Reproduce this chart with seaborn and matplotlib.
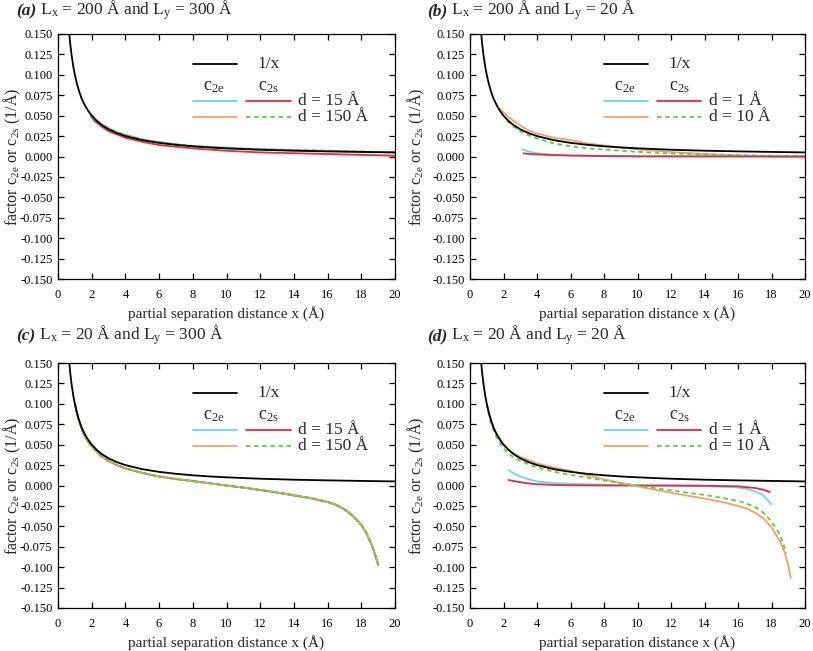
import matplotlib
matplotlib.use('Agg')
import matplotlib.pyplot as plt
import seaborn as sns
import numpy as np
from matplotlib.ticker import FormatStrFormatter, MultipleLocator

# ---- data ----
# 1/x reference curve (same in all panels)
x_inv = [0.67, 0.72, 0.8, 0.9, 1.0, 1.1, 1.25, 1.4, 1.6, 1.8, 2.0, 2.3, 2.6, 3.0, 3.5,
         4.0, 5.0, 6.0, 7.0, 8.0, 9.0, 10.0, 12.0, 14.0, 16.0, 18.0, 20.0]
y_inv = [0.150, 0.139, 0.125, 0.111, 0.100, 0.091, 0.080, 0.071, 0.0625, 0.0556, 0.050,
         0.0435, 0.0385, 0.0333, 0.0286, 0.025, 0.020, 0.0167, 0.0143, 0.0125, 0.0111,
         0.010, 0.0083, 0.0071, 0.0063, 0.0056, 0.005]

# (a) Lx = 200, Ly = 300
a_x = [1.95, 2.2, 2.5, 3, 3.5, 4, 5, 6, 7, 8, 10, 12, 14, 16, 18, 20]
a_c2e_d15 = [0.051, 0.046, 0.041, 0.035, 0.030, 0.027, 0.021, 0.018, 0.015, 0.013, 0.011,
             0.009, 0.008, 0.007, 0.006, 0.005]
a_c2s_d15 = [0.049, 0.043, 0.038, 0.031, 0.027, 0.023, 0.018, 0.014, 0.012, 0.010, 0.007,
             0.005, 0.004, 0.003, 0.002, 0.001]
a_c2e_d150 = [0.050, 0.045, 0.040, 0.034, 0.029, 0.026, 0.020, 0.017, 0.014, 0.012, 0.010,
              0.0085, 0.0075, 0.0065, 0.0058, 0.005]
a_c2s_d150 = [0.050, 0.045, 0.040, 0.034, 0.030, 0.026, 0.021, 0.017, 0.015, 0.013, 0.010,
              0.009, 0.008, 0.007, 0.006, 0.005]

# (b) Lx = 200, Ly = 20
b_x_c2e_d1 = [3.1, 3.5, 4, 5, 6, 8, 10, 14, 20]
b_c2e_d1 = [0.0086, 0.006, 0.004, 0.002, 0.0012, 0.0005, 0.0002, 0.0001, 0.0]
b_x_c2s_d1 = [3.2, 3.5, 4, 5, 6, 8, 10, 14, 20]
b_c2s_d1 = [0.0038, 0.0032, 0.0025, 0.0017, 0.0012, 0.0005, 0.0002, 0.0001, 0.0]
b_x_c2e_d10 = [1.8, 2, 2.5, 3, 3.5, 4, 5, 6, 7, 8, 9, 10, 12, 14, 16, 18, 20]
b_c2e_d10 = [0.058, 0.054, 0.045, 0.038, 0.032, 0.028, 0.023, 0.020, 0.016, 0.0135, 0.011,
             0.0087, 0.0055, 0.003, 0.0015, 0.0, -0.001]
b_x_c2s_d10 = [2.2, 2.5, 3, 3.5, 4, 5, 6, 7, 8, 10, 12, 14, 16, 18, 20]
b_c2s_d10 = [0.044, 0.038, 0.031, 0.026, 0.022, 0.016, 0.0125, 0.010, 0.0085, 0.0057,
             0.0038, 0.0025, 0.0016, 0.001, 0.0005]

# (c) Lx = 20, Ly = 300
c_x = [1.0, 1.2, 1.5, 1.8, 2.0, 2.5, 3, 3.5, 4, 5, 6, 7, 8, 9, 10, 11, 12, 13, 14, 15,
       16, 16.5, 17, 17.5, 18, 18.3, 18.6, 18.8, 19.0]
c_c2e_d15 = [0.100, 0.082, 0.064, 0.053, 0.048, 0.037, 0.030, 0.025, 0.021, 0.0152, 0.0108,
             0.0078, 0.0052, 0.0025, -0.0003, -0.0028, -0.0058, -0.0088, -0.0124, -0.016,
             -0.0206, -0.0242, -0.0297, -0.0378, -0.0488, -0.0588, -0.0728, -0.0838, -0.0975]
c_c2s_d15 = [0.100, 0.082, 0.064, 0.053, 0.048, 0.037, 0.030, 0.025, 0.021, 0.0155, 0.011,
             0.008, 0.0055, 0.0028, 0.0, -0.0025, -0.0055, -0.0085, -0.0120, -0.0155,
             -0.020, -0.0235, -0.029, -0.037, -0.048, -0.058, -0.072, -0.083, -0.097]
c_c2e_d150 = c_c2s_d15[:]
c_c2s_d150 = c_c2s_d15[:]

# (d) Lx = 20, Ly = 20
d_x_c2e_d1 = [2.3, 2.6, 3, 3.5, 4, 5, 6, 8, 10, 12, 14, 15, 16, 16.5, 17, 17.5, 18]
d_c2e_d1 = [0.019, 0.015, 0.011, 0.0075, 0.005, 0.003, 0.002, 0.001, 0.0, -0.0005, -0.001,
            -0.0015, -0.0025, -0.004, -0.007, -0.012, -0.023]
d_x_c2s_d1 = [2.3, 2.6, 3, 3.5, 4, 5, 6, 8, 10, 12, 14, 16, 16.5, 17, 17.5, 17.9]
d_c2s_d1 = [0.0068, 0.0055, 0.004, 0.0025, 0.0015, 0.0007, 0.0003, 0.0, 0.0, 0.0, -0.0003,
            -0.001, -0.002, -0.003, -0.005, -0.008]
d_x_c2e_d10 = [1.0, 1.2, 1.5, 2, 2.5, 3, 4, 5, 6, 7, 8, 9, 10, 11, 12, 13, 14, 15, 16, 16.5,
               17, 17.5, 18, 18.5, 18.8, 19.0, 19.15]
d_c2e_d10 = [0.100, 0.083, 0.066, 0.050, 0.041, 0.035, 0.027, 0.022, 0.018, 0.0125, 0.0075,
             0.003, -0.001, -0.005, -0.009, -0.0125, -0.016, -0.020, -0.025, -0.028, -0.033,
             -0.040, -0.051, -0.068, -0.083, -0.098, -0.113]
d_x_c2s_d10 = [1.0, 1.2, 1.5, 2, 2.5, 3, 4, 5, 6, 7, 8, 9, 10, 11, 12, 13, 14, 15, 16, 16.5,
               17, 17.5, 18, 18.5, 18.9]
d_c2s_d10 = [0.100, 0.080, 0.062, 0.045, 0.036, 0.030, 0.022, 0.017, 0.013, 0.0095, 0.0062,
             0.003, 0.0, -0.003, -0.006, -0.009, -0.0115, -0.015, -0.019, -0.022, -0.026,
             -0.033, -0.044, -0.060, -0.083]

panel_tags = ['(a)', '(b)', '(c)', '(d)']
panel_titles = [r' L$_\mathrm{x}$ = 200 Å and L$_\mathrm{y}$ = 300 Å',
                r' L$_\mathrm{x}$ = 200 Å and L$_\mathrm{y}$ = 20 Å',
                r' L$_\mathrm{x}$ = 20 Å and L$_\mathrm{y}$ = 300 Å',
                r' L$_\mathrm{x}$ = 20 Å and L$_\mathrm{y}$ = 20 Å']
d_labels = [('d = 15 Å', 'd = 150 Å'), ('d = 1 Å', 'd = 10 Å'),
            ('d = 15 Å', 'd = 150 Å'), ('d = 1 Å', 'd = 10 Å')]

# ---- style ----
sns.set_style('ticks')
plt.rcParams['font.family'] = ['Liberation Serif', 'DejaVu Serif']
plt.rcParams['mathtext.fontset'] = 'custom'
plt.rcParams['mathtext.rm'] = 'Liberation Serif'
plt.rcParams['mathtext.it'] = 'Liberation Serif:italic'
plt.rcParams['mathtext.bf'] = 'Liberation Serif:bold'
plt.rcParams['axes.unicode_minus'] = False

CYAN = '#66d9e6'
RED = '#e8283f'
ORANGE = '#f7a064'
GREEN = '#4fd43c'
LW = 1.3
DASH = (2.5, 2.0)

fig = plt.figure(figsize=(8.13, 6.51), dpi=100)
W, H = 813, 651
boxes = [(58, 34, 395, 279), (470, 34, 805, 279), (58, 363, 395, 608), (470, 363, 805, 608)]
axes = [fig.add_axes([l / W, 1 - b / H, (r - l) / W, (b - t) / H]) for l, t, r, b in boxes]

series = [
    [(a_x, a_c2e_d15, CYAN, None), (a_x, a_c2s_d15, RED, None),
     (a_x, a_c2e_d150, ORANGE, None), (a_x, a_c2s_d150, GREEN, DASH)],
    [(b_x_c2e_d10, b_c2e_d10, ORANGE, None), (b_x_c2s_d10, b_c2s_d10, GREEN, DASH),
     (b_x_c2e_d1, b_c2e_d1, CYAN, None), (b_x_c2s_d1, b_c2s_d1, RED, None)],
    [(c_x, c_c2e_d15, CYAN, None), (c_x, c_c2s_d15, RED, None),
     (c_x, c_c2e_d150, ORANGE, None), (c_x, c_c2s_d150, GREEN, DASH)],
    [(d_x_c2e_d1, d_c2e_d1, CYAN, None), (d_x_c2s_d1, d_c2s_d1, RED, None),
     (d_x_c2e_d10, d_c2e_d10, ORANGE, None), (d_x_c2s_d10, d_c2s_d10, GREEN, DASH)],
]

for i, ax in enumerate(axes):
    # curves
    for xs, ys, col, dash in series[i]:
        kw = dict(dashes=dash) if dash else {}
        sns.lineplot(x=xs, y=ys, ax=ax, color=col, linewidth=LW, estimator=None,
                     sort=False, **kw)
    sns.lineplot(x=x_inv, y=y_inv, ax=ax, color='black', linewidth=LW, estimator=None,
                 sort=False)

    ax.set_xlim(0, 20)
    ax.set_ylim(-0.15, 0.15)
    ax.xaxis.set_major_locator(MultipleLocator(2))
    ax.yaxis.set_major_locator(MultipleLocator(0.025))
    ax.yaxis.set_major_formatter(FormatStrFormatter('%.3f'))
    ax.tick_params(direction='in', length=4, width=0.9, top=True, right=True,
                   labelsize=9, colors='black', pad=4)
    ax.tick_params(axis='x', pad=7)
    for s in ax.spines.values():
        s.set_linewidth(0.9)
        s.set_color('black')

    ax.set_xlabel('partial separation distance x (Å)', fontsize=11)
    ax.set_ylabel(r'factor c$_\mathrm{2e}$ or c$_\mathrm{2s}$ (1/Å)', fontsize=11.5)
    ax.xaxis.set_label_coords(0.5, -0.11)
    ax.yaxis.set_label_coords(-0.105 if i % 2 == 0 else -0.128, 0.5)

    # hand made legend (gnuplot style)
    tr = ax.transAxes
    ax.plot([0.40, 0.53], [0.878, 0.878], color='black', lw=LW, transform=tr)
    ax.text(0.593, 0.878, '1/x', transform=tr, fontsize=12.5, va='center', ha='left')
    ax.text(0.463, 0.785, r'c$_\mathrm{2e}$', transform=tr, fontsize=13, va='center', ha='center')
    ax.text(0.624, 0.785, r'c$_\mathrm{2s}$', transform=tr, fontsize=13, va='center', ha='center')
    ax.plot([0.40, 0.53], [0.727, 0.727], color=CYAN, lw=LW, transform=tr)
    ax.plot([0.558, 0.69], [0.727, 0.727], color=RED, lw=LW, transform=tr)
    ax.plot([0.40, 0.53], [0.66, 0.66], color=ORANGE, lw=LW, transform=tr)
    ax.plot([0.558, 0.69], [0.66, 0.66], color=GREEN, lw=LW, dashes=DASH, transform=tr)
    ax.text(0.712, 0.727, d_labels[i][0], transform=tr, fontsize=12.5, va='center', ha='left')
    ax.text(0.712, 0.66, d_labels[i][1], transform=tr, fontsize=12.5, va='center', ha='left')

# panel titles: bold italic tag followed by plain text on the same baseline
title_pos = [(16, 15), (427, 15), (16, 340), (427, 340)]
fig.canvas.draw()
renderer = fig.canvas.get_renderer()
for (px, py), tag, title in zip(title_pos, panel_tags, panel_titles):
    t = fig.text(px / W, 1 - py / H, tag, fontsize=12.5, fontweight='bold', style='italic',
                 va='baseline', ha='left')
    ext = t.get_window_extent(renderer)
    fig.text(ext.x1 / W, 1 - py / H, title, fontsize=12.5, va='baseline', ha='left')

fig.savefig('out.png', dpi=100)
